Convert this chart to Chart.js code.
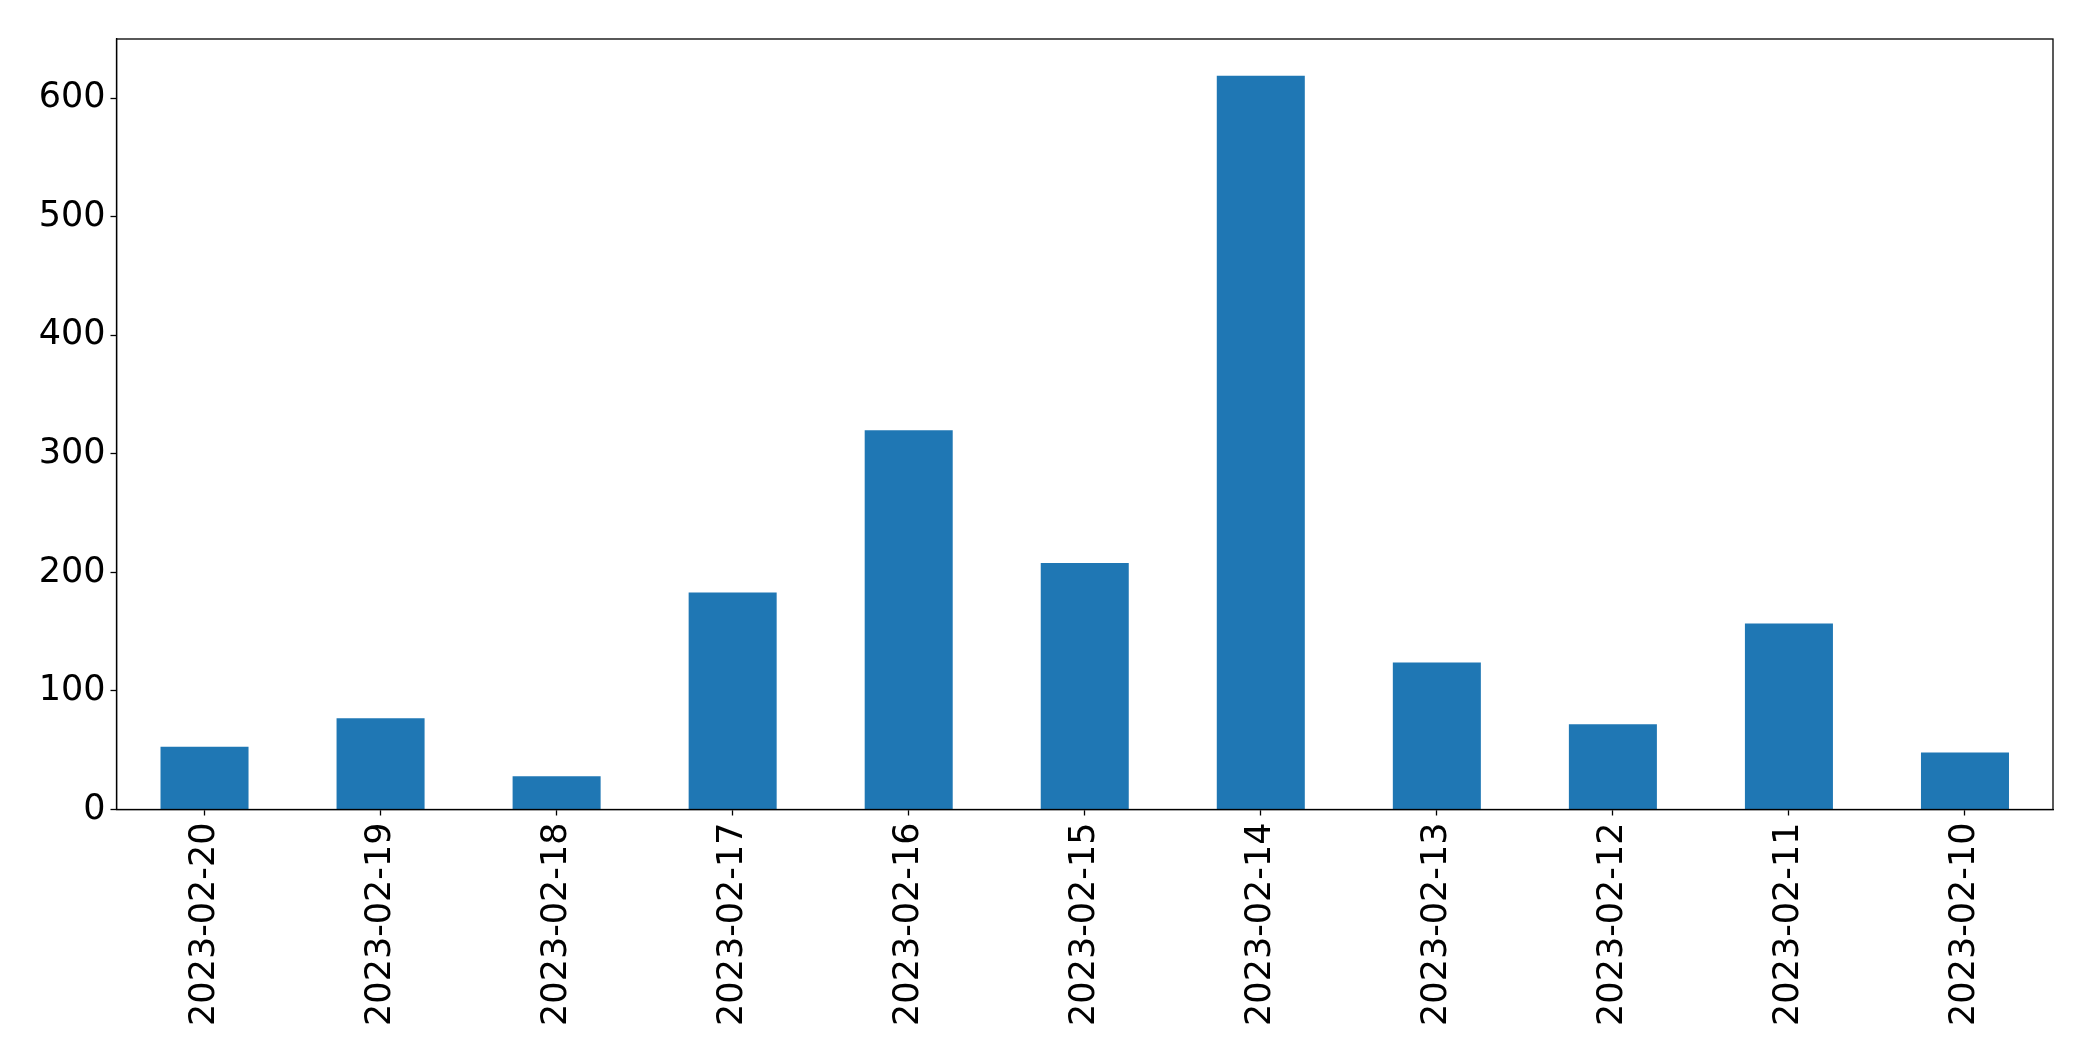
<!DOCTYPE html>
<html>
<head>
<meta charset="utf-8">
<script src="https://cdn.jsdelivr.net/npm/chart.js@4/dist/chart.umd.min.js"></script>
<style>
  html, body { margin: 0; padding: 0; background: #fff; }
  #wrap { width: 2093px; height: 1061px; position: relative; }
</style>
</head>
<body>
<div id="wrap"><canvas id="chart"></canvas></div>
<script>
// Daily counts, newest first (as in the original plot)
const DATES = ['2023-02-20', '2023-02-19', '2023-02-18', '2023-02-17', '2023-02-16', '2023-02-15',
               '2023-02-14', '2023-02-13', '2023-02-12', '2023-02-11', '2023-02-10'];
const COUNTS = [53, 77, 28, 183, 320, 208, 619, 124, 72, 157, 48];
const Y_TICKS = [0, 100, 200, 300, 400, 500, 600];

const FONT = { family: 'DejaVu Sans', size: 35 };

// draw the top/right edges of the axes box
const frame = {
    id: 'frame',
    afterDraw(chart) {
        const { ctx, chartArea: a } = chart;
        ctx.save();
        ctx.strokeStyle = '#000';
        ctx.lineWidth = 1.3;
        ctx.strokeRect(a.left, a.top, a.right - a.left, a.bottom - a.top);
        ctx.restore();
    }
};

new Chart(document.getElementById('chart'), {
    type: 'bar',
    data: {
        labels: DATES,
        datasets: [{
            data: COUNTS,
            backgroundColor: '#1f77b4',
            borderWidth: 0,
            barPercentage: 0.5,
            categoryPercentage: 1.0
        }]
    },
    options: {
        responsive: true,
        maintainAspectRatio: false,
        animation: false,
        devicePixelRatio: 1,
        layout: { padding: { top: 39, right: 40, left: 0, bottom: 0 } },
        plugins: { legend: { display: false }, tooltip: { enabled: false } },
        scales: {
            x: {
                grid: { offset: false, drawOnChartArea: false, color: '#000', tickLength: 6, tickWidth: 1.3 },
                border: { color: '#000', width: 1.3 },
                ticks: { color: '#000', font: FONT, minRotation: 90, maxRotation: 90, padding: 7, autoSkip: false },
                afterFit(scale) { scale.height = 251.5; }
            },
            y: {
                min: 0,
                max: 650,
                afterBuildTicks(scale) { scale.ticks = Y_TICKS.map(v => ({ value: v })); },
                grid: { drawOnChartArea: false, color: '#000', tickLength: 6, tickWidth: 1.3 },
                border: { color: '#000', width: 1.3 },
                ticks: { color: '#000', font: FONT, padding: 5 },
                afterFit(scale) { scale.width = 116.5; }
            }
        }
    },
    plugins: [frame]
});
</script>
</body>
</html>
